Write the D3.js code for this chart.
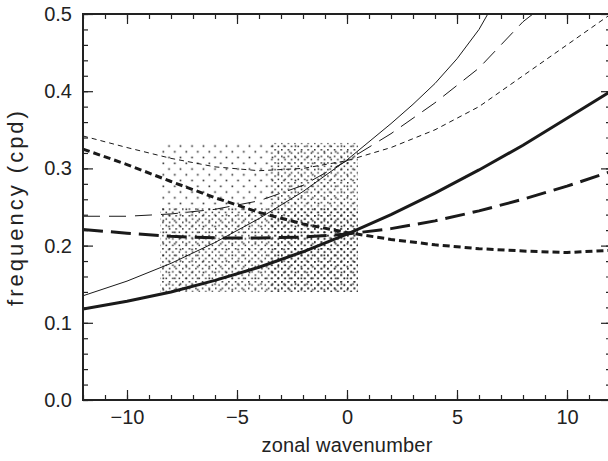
<!DOCTYPE html>
<meta charset="utf-8">
<script src="https://d3js.org/d3.v7.min.js"></script>
<style>
  body { margin: 0; background: #fff; }
  text { font-family: "Liberation Sans", Arial, sans-serif; fill: #222; }
</style>
<body>
<div id="chart"></div>
<script>
// zonal wavenumbers where the curves are sampled
const kThickSolid = [-12, -10, -8, -6, -4, -2, 0, 2, 4, 6, 8, 10, 12];
const fThickSolid = [0.118, 0.128, 0.14, 0.155, 0.172, 0.192, 0.215, 0.24, 0.268, 0.298, 0.33, 0.365, 0.40];

const kThickLong = [-12, -10, -8, -6, -4, -2, 0, 2, 4, 6, 8, 10, 12];
const fThickLong = [0.221, 0.216, 0.212, 0.21, 0.21, 0.211, 0.215, 0.222, 0.232, 0.245, 0.26, 0.277, 0.296];

const kThickShort = [-12, -10, -8, -6, -4, -2, 0, 2, 4, 6, 8, 10, 12];
const fThickShort = [0.325, 0.305, 0.283, 0.262, 0.243, 0.228, 0.217, 0.208, 0.201, 0.196, 0.193, 0.191, 0.194];

const kThinSolid = [-12, -10, -8, -6, -4, -2, 0, 2, 3, 4, 5, 6, 6.4];
const fThinSolid = [0.135, 0.154, 0.177, 0.204, 0.235, 0.27, 0.311, 0.358, 0.383, 0.41, 0.442, 0.48, 0.5];

const kThinLong = [-12, -10, -8, -6, -4, -2, 0, 2, 4, 6, 8, 8.45];
const fThinLong = [0.238, 0.238, 0.241, 0.247, 0.258, 0.278, 0.31, 0.345, 0.385, 0.43, 0.49, 0.5];

const kThinShort = [-12, -10, -8, -6, -4, -2, 0, 2, 4, 6, 8, 10, 12];
const fThinShort = [0.342, 0.327, 0.313, 0.302, 0.297, 0.3, 0.31, 0.327, 0.35, 0.38, 0.42, 0.46, 0.5];

// shaded boxes: [k0, k1, f0, f1]
const sparseBox = [-8.5, 0.5, 0.14, 0.333];
const denseBoxes = [[-3.5, 0.5, 0.14, 0.333], [-8.5, 0.5, 0.14, 0.25]];

const xMajor = [-10, -5, 0, 5, 10];
const yMajor = [0, 0.1, 0.2, 0.3, 0.4, 0.5];

const W = 608, H = 461;
const margin = {top: 14, left: 83, bottom: 61};
const plotW = 528, plotH = H - margin.top - margin.bottom;

const svg = d3.select("#chart").append("svg")
  .attr("width", W).attr("height", H);

const x = d3.scaleLinear().domain([-12, 12]).range([margin.left, margin.left + plotW]);
const y = d3.scaleLinear().domain([0, 0.5]).range([margin.top + plotH, margin.top]);

// dot patterns
const defs = svg.append("defs");
const sp = defs.append("pattern").attr("id", "sparse").attr("patternUnits", "userSpaceOnUse")
  .attr("width", 11.5).attr("height", 11.5);
sp.append("rect").attr("x", 1.5).attr("y", 1.5).attr("width", 1.6).attr("height", 1.6).attr("fill", "#222");
sp.append("rect").attr("x", 7.25).attr("y", 7.25).attr("width", 1.6).attr("height", 1.6).attr("fill", "#222");
const dp = defs.append("pattern").attr("id", "dense").attr("patternUnits", "userSpaceOnUse")
  .attr("width", 6.6).attr("height", 6.6);
dp.append("rect").attr("x", 0.5).attr("y", 0.5).attr("width", 1.5).attr("height", 1.5).attr("fill", "#222");
dp.append("rect").attr("x", 3.8).attr("y", 3.8).attr("width", 1.5).attr("height", 1.5).attr("fill", "#222");

svg.append("rect")
  .attr("x", x(sparseBox[0])).attr("y", y(sparseBox[3]))
  .attr("width", x(sparseBox[1]) - x(sparseBox[0]))
  .attr("height", y(sparseBox[2]) - y(sparseBox[3]))
  .attr("fill", "url(#sparse)");
svg.selectAll(".dense").data(denseBoxes).enter().append("rect")
  .attr("x", d => x(d[0])).attr("y", d => y(d[3]))
  .attr("width", d => x(d[1]) - x(d[0]))
  .attr("height", d => y(d[2]) - y(d[3]))
  .attr("fill", "url(#dense)");

// curves
const line = d3.line().x(d => x(d[0])).y(d => y(d[1]));
const curves = [
  {k: kThinSolid, f: fThinSolid, w: 1, dash: null},
  {k: kThinLong, f: fThinLong, w: 1, dash: "17,9"},
  {k: kThinShort, f: fThinShort, w: 1, dash: "5,4"},
  {k: kThickSolid, f: fThickSolid, w: 3, dash: null},
  {k: kThickLong, f: fThickLong, w: 3, dash: "20,8"},
  {k: kThickShort, f: fThickShort, w: 3, dash: "7,4"}
];
const clip = defs.append("clipPath").attr("id", "clip").append("rect")
  .attr("x", margin.left).attr("y", margin.top).attr("width", plotW).attr("height", plotH);
svg.append("g").attr("clip-path", "url(#clip)")
  .selectAll("path").data(curves).enter().append("path")
  .attr("d", c => line(c.k.map((k, i) => [k, c.f[i]])))
  .attr("fill", "none").attr("stroke", "#1a1a1a")
  .attr("stroke-width", c => c.w)
  .attr("stroke-dasharray", c => c.dash);

// axes with inward ticks on all sides
const xMinor = d3.range(-12, 13, 1);
const yMinor = d3.range(0, 0.501, 0.02);
function addAxis(axis, tr, ticks, size, labels) {
  const g = svg.append("g").attr("transform", tr)
    .call(axis.tickValues(ticks).tickSize(size).tickPadding(labels ? 10 : 0)
      .tickFormat(labels ? labels : ""));
  g.select(".domain").remove();
  g.selectAll("line").attr("stroke", "#222").attr("stroke-width", 1.2);
  g.selectAll("text").style("font-size", "20px").attr("fill", "#222");
  return g;
}
const bottomY = y(0), topY = y(0.5), leftX = x(-12), rightX = x(12);
addAxis(d3.axisBottom(x), `translate(0,${bottomY})`, xMinor, -5, null);
addAxis(d3.axisBottom(x), `translate(0,${bottomY})`, xMajor, -10, d3.format("d"))
  .selectAll("text").attr("y", 10).attr("dy", "0.71em");
addAxis(d3.axisTop(x), `translate(0,${topY})`, xMinor, -5, null);
addAxis(d3.axisTop(x), `translate(0,${topY})`, xMajor, -10, null);
addAxis(d3.axisLeft(y), `translate(${leftX},0)`, yMinor, -5, null);
addAxis(d3.axisLeft(y), `translate(${leftX},0)`, yMajor, -10, d3.format(".1f"))
  .selectAll("text").attr("x", -11);
addAxis(d3.axisRight(y), `translate(${rightX},0)`, yMinor, -5, null);
addAxis(d3.axisRight(y), `translate(${rightX},0)`, yMajor, -10, null);

// frame
svg.append("rect")
  .attr("x", leftX).attr("y", topY).attr("width", rightX - leftX).attr("height", bottomY - topY)
  .attr("fill", "none").attr("stroke", "#222").attr("stroke-width", 2);

// axis titles
svg.append("text").attr("x", x(0)).attr("y", 452).attr("text-anchor", "middle")
  .style("font-size", "20px").style("letter-spacing", "0.2px").text("zonal wavenumber");
svg.append("text").attr("transform", `translate(23,${y(0.25)}) rotate(-90)`)
  .attr("text-anchor", "middle").style("font-size", "22px").style("letter-spacing", "3px")
  .text("frequency (cpd)");
</script>
</body>
